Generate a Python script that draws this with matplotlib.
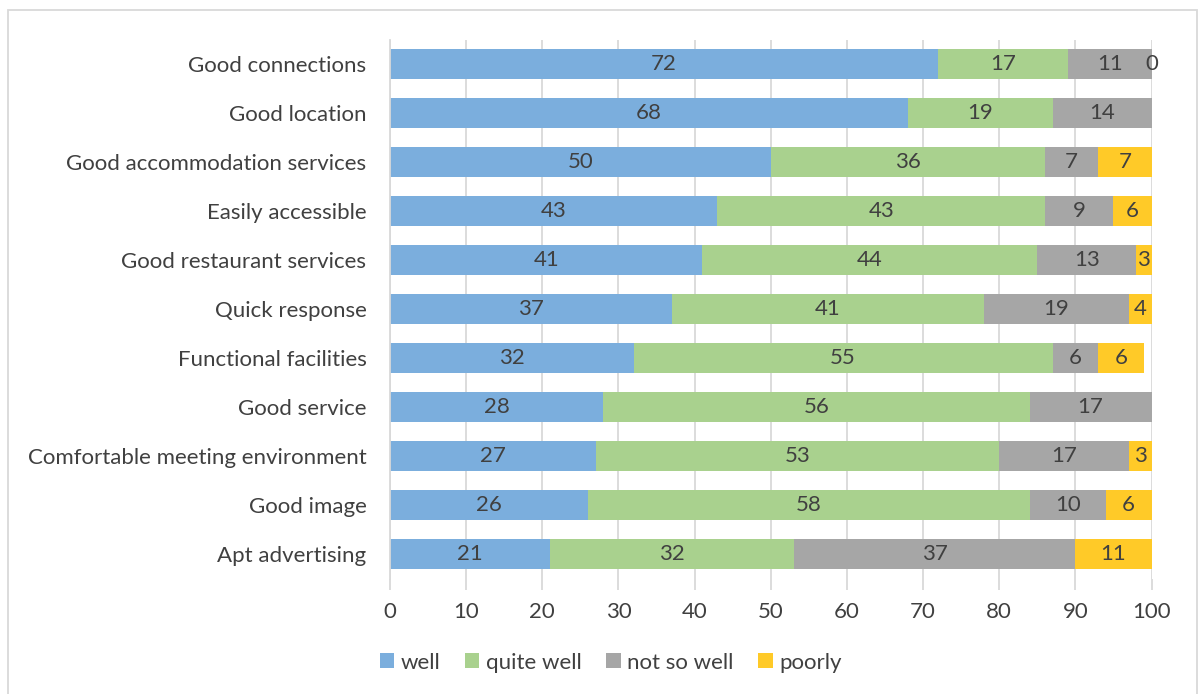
import numpy as np
import matplotlib
matplotlib.use('Agg')
import matplotlib.pyplot as plt
from matplotlib.patches import Rectangle

plt.rcParams['font.family'] = ['Lato', 'DejaVu Sans']

categories = ["Good connections", "Good location", "Good accommodation services",
              "Easily accessible", "Good restaurant services", "Quick response",
              "Functional facilities", "Good service", "Comfortable meeting environment",
              "Good image", "Apt advertising"]
well = [72, 68, 50, 43, 41, 37, 32, 28, 27, 26, 21]
quite_well = [17, 19, 36, 43, 44, 41, 55, 56, 53, 58, 32]
not_so_well = [11, 14, 7, 9, 13, 19, 6, 17, 17, 10, 37]
# nan = no answer recorded, no label drawn
poorly = [0, np.nan, 7, 6, 3, 4, 6, np.nan, 3, 6, 11]

series = [("well", well, "#7BAEDD"),
          ("quite well", quite_well, "#A9D18E"),
          ("not so well", not_so_well, "#A6A6A6"),
          ("poorly", poorly, "#FFCA28")]

text_color = "#404040"
grid_color = "#D9D9D9"
fs = 16
xmax = 100

fig = plt.figure(figsize=(12.02, 6.94), dpi=100)
ax = fig.add_axes([0.3245, 0.166, 0.6335, 0.777])

y = np.arange(len(categories))
left = np.zeros(len(categories))
for name, vals, color in series:
    vals = np.array(vals, dtype=float)
    w = np.nan_to_num(vals)
    ax.barh(y, w, left=left, height=0.61, color=color, label=name, zorder=2)
    for i, v in enumerate(vals):
        if np.isnan(v):
            continue
        # bars past the axis end are cut off, label sits on the visible part
        x0 = min(left[i], xmax)
        x1 = min(left[i] + w[i], xmax)
        ax.text((x0 + x1) / 2, y[i], f"{v:g}", ha='center', va='center',
                fontsize=fs, color=text_color, zorder=3)
    left += w

ax.set_ylim(len(categories) - 0.5, -0.5)
ax.set_xlim(0, xmax)
ax.set_xticks(np.arange(0, 101, 10))
ax.set_yticks(y)
ax.set_yticklabels(categories)
ax.xaxis.grid(True, color=grid_color, linewidth=1.3, zorder=0)
ax.set_axisbelow(True)
for s in ['top', 'right', 'bottom']:
    ax.spines[s].set_visible(False)
ax.spines['left'].set_color(grid_color)
ax.spines['left'].set_linewidth(1.3)
ax.tick_params(axis='y', length=0, pad=17, labelsize=fs, labelcolor=text_color)
ax.tick_params(axis='x', length=8, width=1.3, color=grid_color, direction='out',
               pad=8.5, labelsize=fs, labelcolor=text_color)

leg = fig.legend(loc='lower center', bbox_to_anchor=(0.508, 0.002), ncol=4,
                 frameon=False, fontsize=fs, handlelength=0.65, handleheight=0.65,
                 handletextpad=0.3, columnspacing=1.1)
for t in leg.get_texts():
    t.set_color(text_color)

# outer chart frame
fig.patches.append(Rectangle((8 / 1202, -0.05), 1189 / 1202, 1 - 10 / 694 + 0.05,
                             transform=fig.transFigure, fill=False,
                             edgecolor=grid_color, linewidth=1.3))

fig.savefig('out.png', dpi=100, facecolor='white')
